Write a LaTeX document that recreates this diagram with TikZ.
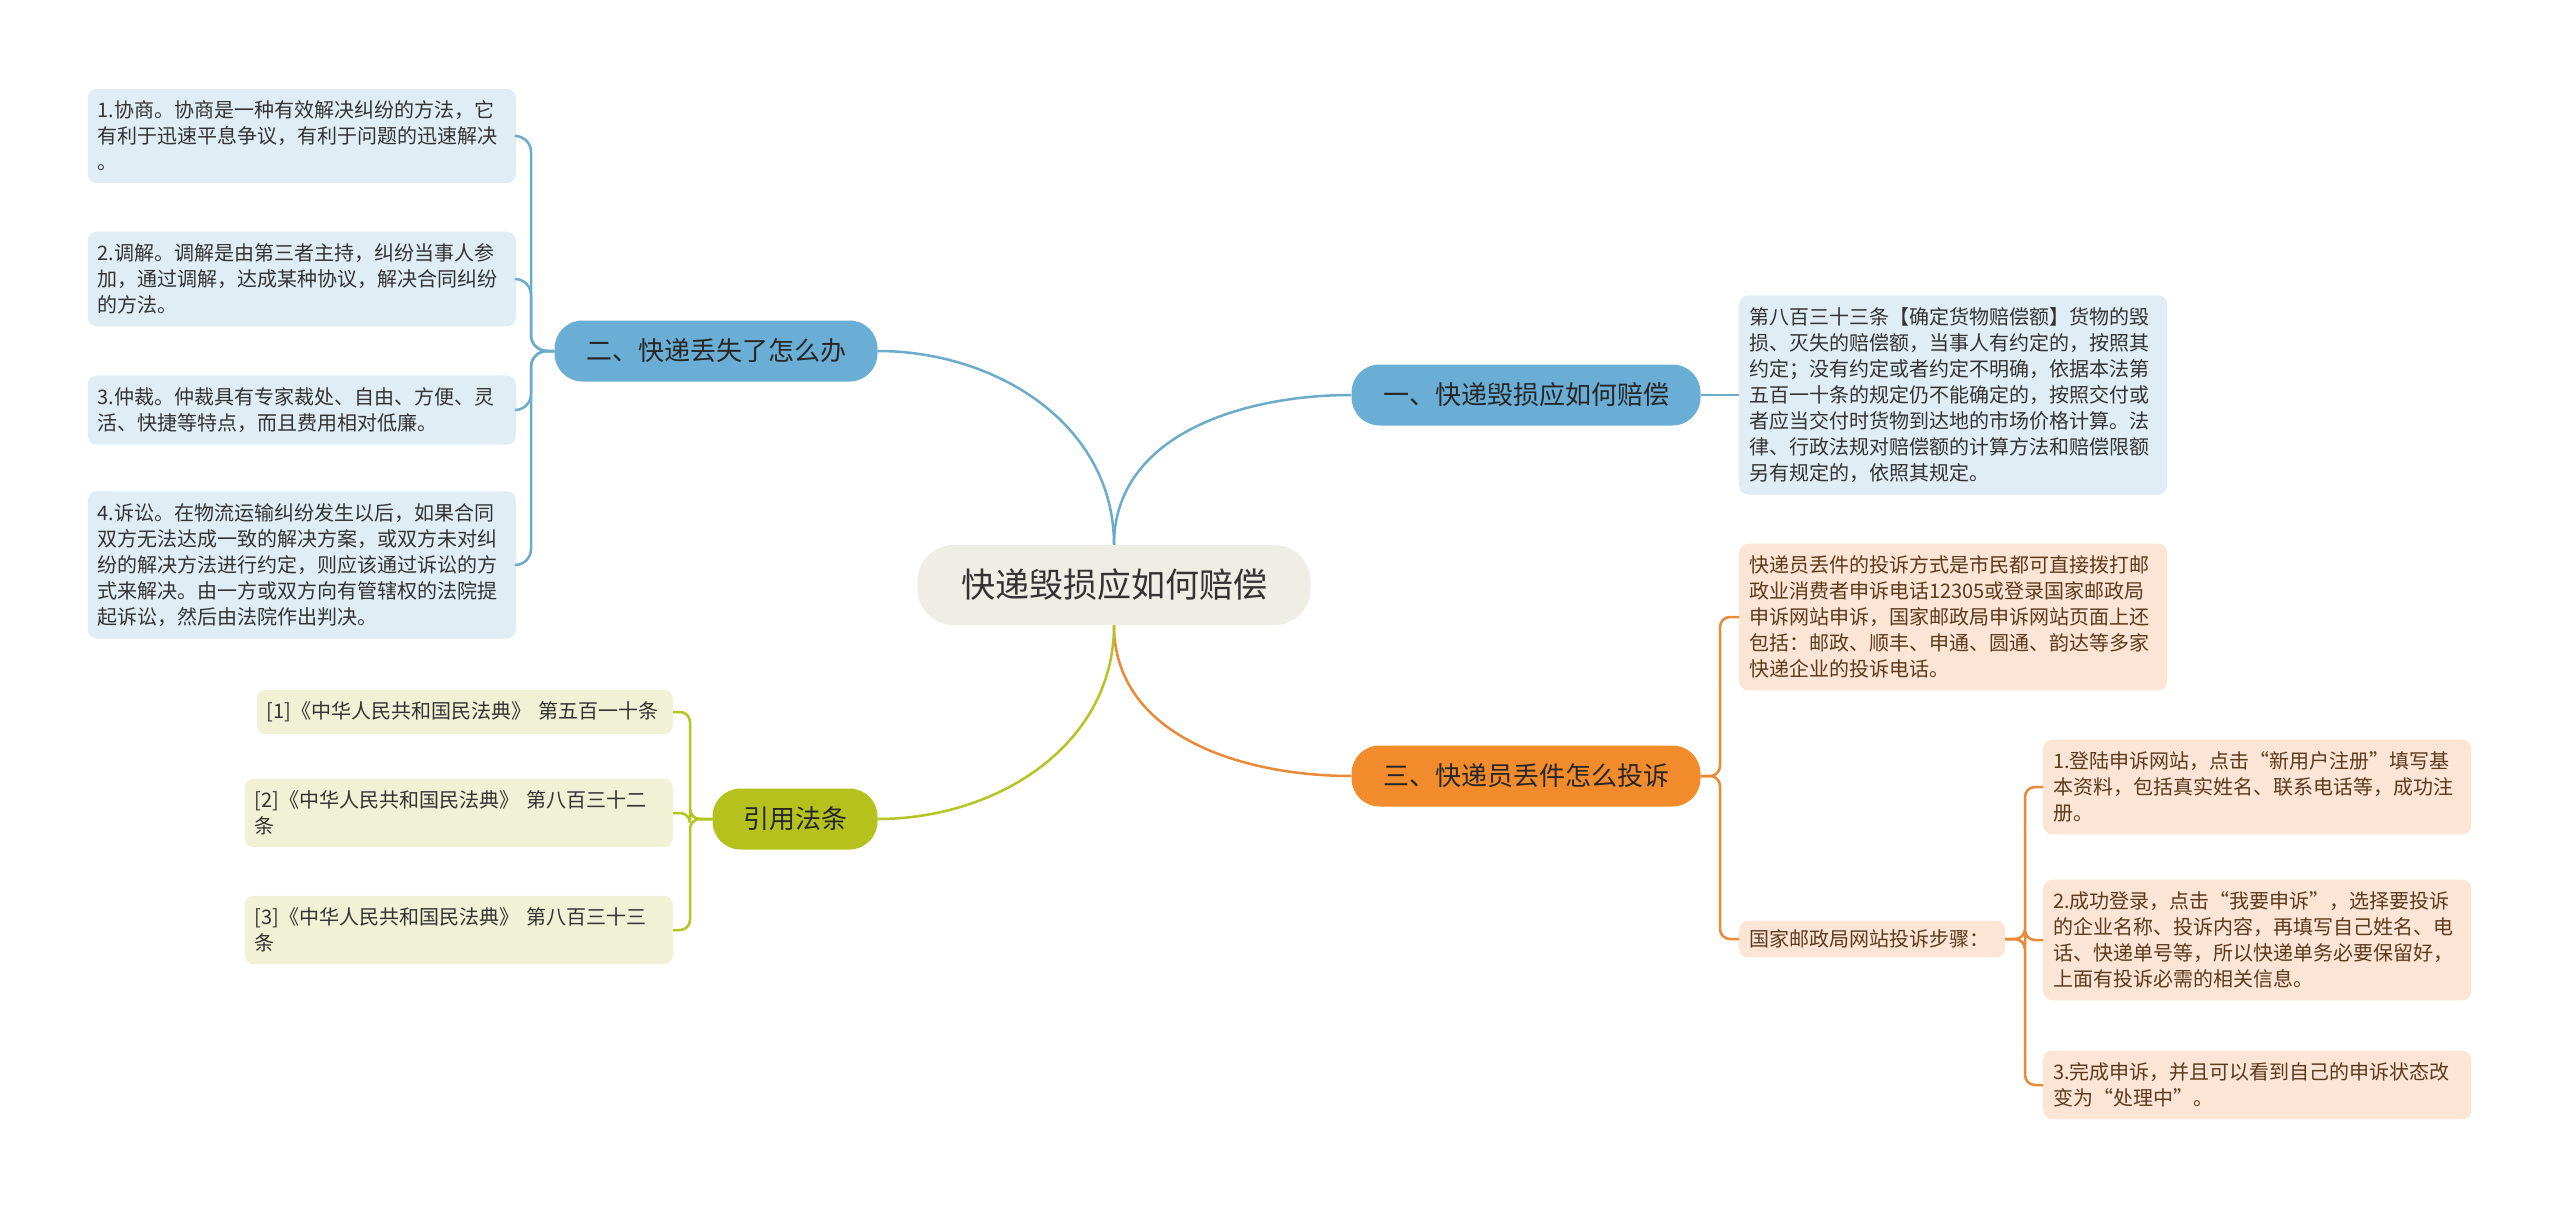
\documentclass[tikz,border=0pt]{standalone}
\usepackage{fontspec}
\setmainfont{Noto Sans CJK SC}
\usetikzlibrary{positioning}

\definecolor{rootfill}{HTML}{EFEEE6}
\definecolor{bluefill}{HTML}{6AAED5}
\definecolor{blueleaf}{HTML}{E0EDF5}
\definecolor{blueline}{HTML}{6DABCB}
\definecolor{orangefill}{HTML}{F28B2C}
\definecolor{orangeleaf}{HTML}{FCE5D5}
\definecolor{orangeline}{HTML}{E88A38}
\definecolor{orangetext}{HTML}{5B3A1E}
\definecolor{greenfill}{HTML}{B5C21E}
\definecolor{greenleaf}{HTML}{F0F1D5}
\definecolor{greenline}{HTML}{B4C423}
\definecolor{darktext}{HTML}{333333}

\tikzset{
  root/.style={fill=rootfill, rounded corners=36pt, minimum width=393pt, minimum height=80pt,
    font=\fontsize{34}{40}\selectfont, text=darktext},
  branch/.style={rounded corners=28pt, minimum height=61pt, font=\fontsize{26}{30}\selectfont, text=black!85},
  leaf/.style={rounded corners=9pt, inner xsep=10pt, inner ysep=12pt, text width=408pt, align=left,
    font=\fontsize{20}{26}\selectfont},
  bleaf/.style={leaf, fill=blueleaf, text=darktext},
  oleaf/.style={leaf, fill=orangeleaf, text=orangetext},
  gleaf/.style={leaf, fill=greenleaf, text=darktext},
  link/.style={line width=2.5pt, rounded corners=16pt},
}

\begin{document}
\begin{tikzpicture}[x=1pt, y=-1pt]
		\useasboundingbox[fill=white] (0,0) rectangle (2560,1209);

		% Define the root and the main branches
		\node[root] (root) at (1114, 585) {快递毁损应如何赔偿};
		\node[branch, fill=bluefill, minimum width=349pt] (one) at (1526, 395) {一、快递毁损应如何赔偿};
		\node[branch, fill=bluefill, minimum width=323pt] (two) at (716, 351) {二、快递丢失了怎么办};
		\node[branch, fill=orangefill, minimum width=349pt] (three) at (1526, 776) {三、快递员丢件怎么投诉};
		\node[branch, fill=greenfill, minimum width=165pt] (cite) at (795, 819) {引用法条};

		% Define the leaves of branch one
		\node[bleaf, anchor=west] (oneA) at (1739, 395) {第八百三十三条【确定货物赔偿额】货物的毁\\损、灭失的赔偿额，当事人有约定的，按照其\\约定；没有约定或者约定不明确，依据本法第\\五百一十条的规定仍不能确定的，按照交付或\\者应当交付时货物到达地的市场价格计算。法\\律、行政法规对赔偿额的计算方法和赔偿限额\\另有规定的，依照其规定。};

		% Define the leaves of branch two
		\node[bleaf, anchor=east] (twoA) at (516, 136) {1.协商。协商是一种有效解决纠纷的方法，它\\有利于迅速平息争议，有利于问题的迅速解决\\。};
		\node[bleaf, anchor=east] (twoB) at (516, 279) {2.调解。调解是由第三者主持，纠纷当事人参\\加，通过调解，达成某种协议，解决合同纠纷\\的方法。};
		\node[bleaf, anchor=east] (twoC) at (516, 410) {3.仲裁。仲裁具有专家裁处、自由、方便、灵\\活、快捷等特点，而且费用相对低廉。};
		\node[bleaf, anchor=east] (twoD) at (516, 565) {4.诉讼。在物流运输纠纷发生以后，如果合同\\双方无法达成一致的解决方案，或双方未对纠\\纷的解决方法进行约定，则应该通过诉讼的方\\式来解决。由一方或双方向有管辖权的法院提\\起诉讼，然后由法院作出判决。};

		% Define the leaves of branch three
		\node[oleaf, anchor=west] (threeA) at (1739, 617) {快递员丢件的投诉方式是市民都可直接拨打邮\\政业消费者申诉电话12305或登录国家邮政局\\申诉网站申诉，国家邮政局申诉网站页面上还\\包括：邮政、顺丰、申通、圆通、韵达等多家\\快递企业的投诉电话。};
		\node[oleaf, anchor=west, text width=246pt, inner ysep=9pt] (threeB) at (1739, 939) {国家邮政局网站投诉步骤：};
		\node[oleaf, anchor=west] (stepA) at (2043, 787) {1.登陆申诉网站，点击“新用户注册”填写基\\本资料，包括真实姓名、联系电话等，成功注\\册。};
		\node[oleaf, anchor=west] (stepB) at (2043, 940) {2.成功登录，点击“我要申诉”，选择要投诉\\的企业名称、投诉内容，再填写自己姓名、电\\话、快递单号等，所以快递单务必要保留好，\\上面有投诉必需的相关信息。};
		\node[oleaf, anchor=west] (stepC) at (2043, 1085) {3.完成申诉，并且可以看到自己的申诉状态改\\变为“处理中”。};

		% Define the cited articles
		\node[gleaf, anchor=east, text width=396pt] (citeA) at (673, 712) {[1]《中华人民共和国民法典》 第五百一十条};
		\node[gleaf, anchor=east] (citeB) at (673, 813) {[2]《中华人民共和国民法典》 第八百三十二\\条};
		\node[gleaf, anchor=east] (citeC) at (673, 930) {[3]《中华人民共和国民法典》 第八百三十三\\条};

		% Spine points of the brackets
		\coordinate (spTwo) at (531, 351);
		\coordinate (spThree) at (1720, 776);
		\coordinate (spSteps) at (2025, 939);
		\coordinate (spCite) at (690, 819);

		% Edges from the root
		\draw[link, blueline] (root.north) to[out=90, in=180] (one.west);
		\draw[link, blueline] (root.north) to[out=90, in=0] (two.east);
		\draw[link, orangeline] (root.south) to[out=-90, in=180] (three.west);
		\draw[link, greenline] (root.south) to[out=-90, in=0] (cite.east);

		% Edges to the leaves
		\draw[link, blueline] (one.east) -- (oneA.west);
		\foreach \leaf in {twoA, twoB, twoC, twoD}
			\draw[link, blueline] (two.west) -- (spTwo) |- (\leaf.east);
		\foreach \leaf in {threeA, threeB}
			\draw[link, orangeline, rounded corners=10pt] (three.east) -- (spThree) |- (\leaf.west);
		\foreach \leaf in {stepA, stepB, stepC}
			\draw[link, orangeline, rounded corners=10pt] (threeB.east) -- (spSteps) |- (\leaf.west);
		\foreach \leaf in {citeA, citeB, citeC}
			\draw[link, greenline, rounded corners=10pt] (cite.west) -- (spCite) |- (\leaf.east);
	\end{tikzpicture}
\end{document}
